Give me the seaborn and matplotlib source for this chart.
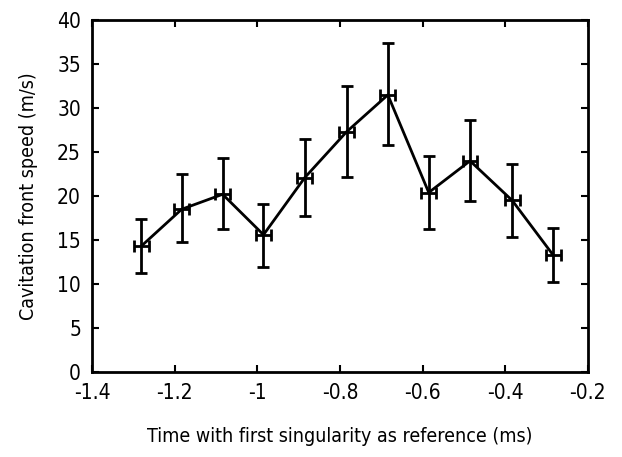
import matplotlib
matplotlib.use("Agg")
import matplotlib.pyplot as plt
import seaborn as sns
import pandas as pd

time_ms = [-1.281, -1.183, -1.084, -0.985, -0.885, -0.784, -0.684, -0.585, -0.485, -0.383, -0.284]
speed = [14.3, 18.5, 20.2, 15.6, 22.1, 27.3, 31.5, 20.4, 24.0, 19.5, 13.3]
err_top = [17.4, 22.5, 24.3, 19.1, 26.5, 32.5, 37.4, 24.5, 28.6, 23.7, 16.4]
err_bottom = [11.2, 14.8, 16.2, 11.9, 17.7, 22.2, 25.8, 16.2, 19.4, 15.4, 10.2]
time_err = 0.018

df = pd.DataFrame({"time": time_ms, "speed": speed})

sns.set_style("ticks")
plt.rcParams["font.family"] = ["DejaVu Sans", "Liberation Sans"]
plt.rcParams["font.stretch"] = "condensed"
plt.rcParams["text.color"] = "black"
plt.rcParams["axes.labelcolor"] = "black"
plt.rcParams["xtick.color"] = "black"
plt.rcParams["ytick.color"] = "black"

fig = plt.figure(figsize=(6.22, 4.57), dpi=100)
ax = fig.add_axes([0.148, 0.186, 0.797, 0.770])

sns.lineplot(data=df, x="time", y="speed", color="black", linewidth=2, ax=ax)
lower = [s - b for s, b in zip(speed, err_bottom)]
upper = [t - s for s, t in zip(speed, err_top)]
ax.errorbar(time_ms, speed, yerr=[lower, upper], xerr=time_err, fmt="none",
            ecolor="black", elinewidth=2, capsize=4, capthick=2)

ax.set_xlim(-1.4, -0.2)
ax.set_ylim(0, 40)
ax.set_xticks([-1.4, -1.2, -1, -0.8, -0.6, -0.4, -0.2])
ax.set_xticklabels(["-1.4", "-1.2", "-1", "-0.8", "-0.6", "-0.4", "-0.2"])
ax.set_yticks(range(0, 45, 5))
ax.tick_params(direction="in", top=True, right=True, length=5, width=1.5,
               labelsize=15)
ax.tick_params(axis="x", pad=8)
ax.tick_params(axis="y", pad=8)
for s in ax.spines.values():
    s.set_visible(True)
    s.set_linewidth(2)
    s.set_color("black")
ax.set_xlabel("Time with first singularity as reference (ms)", fontsize=14, labelpad=17)
ax.set_ylabel("Cavitation front speed (m/s)", fontsize=14, labelpad=14)

fig.savefig("out.png", dpi=100)
